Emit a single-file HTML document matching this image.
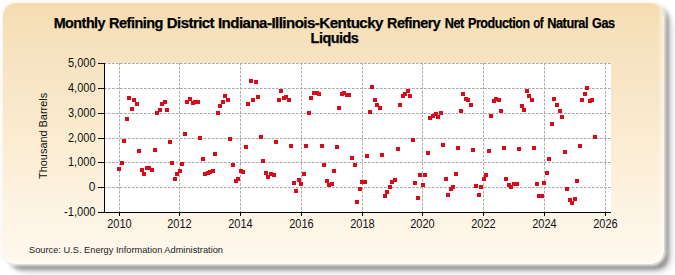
<!DOCTYPE html>
<html><head><meta charset="utf-8"><style>
html,body{margin:0;padding:0;width:675px;height:275px;overflow:hidden;background:#fff;}
#shadow{position:absolute;left:9px;top:7px;width:660px;height:263px;border-radius:13px;background:rgba(0,0,0,0.38);filter:blur(2.2px);}
#shadow2{position:absolute;left:12px;top:12px;width:662px;height:262px;border-radius:18px;background:rgba(0,0,20,0.08);filter:blur(4px);}
#panel{position:absolute;left:3px;top:3px;width:661px;height:261px;border-radius:13px;
background:linear-gradient(to bottom,rgb(244,220,176) 0%,rgb(246,225,188) 12%,rgb(247,227,194) 22%,rgb(248,232,202) 39%,rgb(252,238,213) 58%,rgb(253,243,226) 77%,rgb(254,247,236) 96%,rgb(254,248,238) 100%);
box-shadow:0 0 2.5px 1.5px rgba(250,245,235,0.8), inset -4px -4px 3px rgba(255,255,255,0.45);filter:blur(0.6px);}
svg{position:absolute;left:0;top:0;}
.ax{font-family:"Liberation Sans",sans-serif;font-size:12px;fill:#111;}
.title{font-family:"Liberation Sans",sans-serif;font-size:14px;font-weight:bold;fill:#000;stroke:#000;stroke-width:0.25px;letter-spacing:-0.5px;}
.src{font-family:"Liberation Sans",sans-serif;font-size:9.6px;fill:#222;}
</style></head><body>
<div id="shadow2"></div><div id="shadow"></div><div id="panel"></div>
<svg width="675" height="275" viewBox="0 0 675 275" shape-rendering="crispEdges">
<text x="53.7" y="28" class="title" textLength="51.37" lengthAdjust="spacingAndGlyphs">Monthly</text><text x="109.1" y="28" class="title" textLength="53.84" lengthAdjust="spacingAndGlyphs">Refining</text><text x="166.8" y="28" class="title" textLength="47.25" lengthAdjust="spacingAndGlyphs">District</text><text x="217.9" y="28" class="title" textLength="165.02" lengthAdjust="spacingAndGlyphs">Indiana-Illinois-Kentucky</text><text x="387.1" y="28" class="title" textLength="53.03" lengthAdjust="spacingAndGlyphs">Refinery</text><text x="444.8" y="28" class="title" textLength="19.08" lengthAdjust="spacingAndGlyphs">Net</text><text x="468" y="28" class="title" textLength="61.81" lengthAdjust="spacingAndGlyphs">Production</text><text x="533.2" y="28" class="title" textLength="9.97" lengthAdjust="spacingAndGlyphs">of</text><text x="547.2" y="28" class="title" textLength="40.79" lengthAdjust="spacingAndGlyphs">Natural</text><text x="592.1" y="28" class="title" textLength="22.59" lengthAdjust="spacingAndGlyphs">Gas</text>
<text x="310.6" y="43" class="title" textLength="47.73" lengthAdjust="spacingAndGlyphs">Liquids</text>
<text transform="translate(46.6,135.9) rotate(-90)" text-anchor="middle" class="ax" style="font-size:10px" textLength="86" lengthAdjust="spacingAndGlyphs">Thousand Barrels</text>
<rect x="104" y="63" width="507" height="149" fill="#fff"/><line x1="104" y1="63.5" x2="611" y2="63.5" stroke="#aaaaaa" stroke-width="1" stroke-dasharray="2.6,1.4" shape-rendering="auto"/><line x1="104" y1="88.5" x2="611" y2="88.5" stroke="#aaaaaa" stroke-width="1" stroke-dasharray="2.6,1.4" shape-rendering="auto"/><line x1="104" y1="113.5" x2="611" y2="113.5" stroke="#aaaaaa" stroke-width="1" stroke-dasharray="2.6,1.4" shape-rendering="auto"/><line x1="104" y1="138.5" x2="611" y2="138.5" stroke="#aaaaaa" stroke-width="1" stroke-dasharray="2.6,1.4" shape-rendering="auto"/><line x1="104" y1="162.5" x2="611" y2="162.5" stroke="#aaaaaa" stroke-width="1" stroke-dasharray="2.6,1.4" shape-rendering="auto"/><line x1="104" y1="187.5" x2="611" y2="187.5" stroke="#aaaaaa" stroke-width="1" stroke-dasharray="2.6,1.4" shape-rendering="auto"/><line x1="119.5" y1="63" x2="119.5" y2="212" stroke="#aaaaaa" stroke-width="1" stroke-dasharray="2.6,1.4" shape-rendering="auto"/><line x1="179.5" y1="63" x2="179.5" y2="212" stroke="#aaaaaa" stroke-width="1" stroke-dasharray="2.6,1.4" shape-rendering="auto"/><line x1="240.5" y1="63" x2="240.5" y2="212" stroke="#aaaaaa" stroke-width="1" stroke-dasharray="2.6,1.4" shape-rendering="auto"/><line x1="301.5" y1="63" x2="301.5" y2="212" stroke="#aaaaaa" stroke-width="1" stroke-dasharray="2.6,1.4" shape-rendering="auto"/><line x1="362.5" y1="63" x2="362.5" y2="212" stroke="#aaaaaa" stroke-width="1" stroke-dasharray="2.6,1.4" shape-rendering="auto"/><line x1="422.5" y1="63" x2="422.5" y2="212" stroke="#aaaaaa" stroke-width="1" stroke-dasharray="2.6,1.4" shape-rendering="auto"/><line x1="483.5" y1="63" x2="483.5" y2="212" stroke="#aaaaaa" stroke-width="1" stroke-dasharray="2.6,1.4" shape-rendering="auto"/><line x1="544.5" y1="63" x2="544.5" y2="212" stroke="#aaaaaa" stroke-width="1" stroke-dasharray="2.6,1.4" shape-rendering="auto"/><line x1="605.5" y1="63" x2="605.5" y2="212" stroke="#aaaaaa" stroke-width="1" stroke-dasharray="2.6,1.4" shape-rendering="auto"/><rect x="117" y="167" width="4" height="4" fill="#d90a1a"/><rect x="120" y="161" width="4" height="4" fill="#d90a1a"/><rect x="122" y="139" width="4" height="4" fill="#d90a1a"/><rect x="125" y="117" width="4" height="4" fill="#d90a1a"/><rect x="127" y="96" width="4" height="4" fill="#d90a1a"/><rect x="130" y="107" width="4" height="4" fill="#d90a1a"/><rect x="132" y="98" width="4" height="4" fill="#d90a1a"/><rect x="135" y="102" width="4" height="4" fill="#d90a1a"/><rect x="137" y="149" width="4" height="4" fill="#d90a1a"/><rect x="140" y="168" width="4" height="4" fill="#d90a1a"/><rect x="142" y="172" width="4" height="4" fill="#d90a1a"/><rect x="145" y="166" width="4" height="4" fill="#d90a1a"/><rect x="147" y="166" width="4" height="4" fill="#d90a1a"/><rect x="150" y="168" width="4" height="4" fill="#d90a1a"/><rect x="153" y="148" width="4" height="4" fill="#d90a1a"/><rect x="155" y="111" width="4" height="4" fill="#d90a1a"/><rect x="158" y="108" width="4" height="4" fill="#d90a1a"/><rect x="160" y="102" width="4" height="4" fill="#d90a1a"/><rect x="163" y="100" width="4" height="4" fill="#d90a1a"/><rect x="165" y="108" width="4" height="4" fill="#d90a1a"/><rect x="168" y="140" width="4" height="4" fill="#d90a1a"/><rect x="170" y="161" width="4" height="4" fill="#d90a1a"/><rect x="173" y="177" width="4" height="4" fill="#d90a1a"/><rect x="175" y="172" width="4" height="4" fill="#d90a1a"/><rect x="178" y="169" width="4" height="4" fill="#d90a1a"/><rect x="180" y="162" width="4" height="4" fill="#d90a1a"/><rect x="183" y="132" width="4" height="4" fill="#d90a1a"/><rect x="185" y="100" width="4" height="4" fill="#d90a1a"/><rect x="188" y="97" width="4" height="4" fill="#d90a1a"/><rect x="191" y="101" width="4" height="4" fill="#d90a1a"/><rect x="193" y="100" width="4" height="4" fill="#d90a1a"/><rect x="196" y="100" width="4" height="4" fill="#d90a1a"/><rect x="198" y="136" width="4" height="4" fill="#d90a1a"/><rect x="201" y="157" width="4" height="4" fill="#d90a1a"/><rect x="203" y="172" width="4" height="4" fill="#d90a1a"/><rect x="206" y="171" width="4" height="4" fill="#d90a1a"/><rect x="208" y="170" width="4" height="4" fill="#d90a1a"/><rect x="211" y="169" width="4" height="4" fill="#d90a1a"/><rect x="213" y="152" width="4" height="4" fill="#d90a1a"/><rect x="216" y="111" width="4" height="4" fill="#d90a1a"/><rect x="218" y="104" width="4" height="4" fill="#d90a1a"/><rect x="221" y="100" width="4" height="4" fill="#d90a1a"/><rect x="223" y="94" width="4" height="4" fill="#d90a1a"/><rect x="226" y="98" width="4" height="4" fill="#d90a1a"/><rect x="228" y="137" width="4" height="4" fill="#d90a1a"/><rect x="231" y="163" width="4" height="4" fill="#d90a1a"/><rect x="234" y="179" width="4" height="4" fill="#d90a1a"/><rect x="236" y="177" width="4" height="4" fill="#d90a1a"/><rect x="239" y="169" width="4" height="4" fill="#d90a1a"/><rect x="241" y="170" width="4" height="4" fill="#d90a1a"/><rect x="244" y="145" width="4" height="4" fill="#d90a1a"/><rect x="246" y="102" width="4" height="4" fill="#d90a1a"/><rect x="249" y="79" width="4" height="4" fill="#d90a1a"/><rect x="251" y="98" width="4" height="4" fill="#d90a1a"/><rect x="254" y="80" width="4" height="4" fill="#d90a1a"/><rect x="256" y="95" width="4" height="4" fill="#d90a1a"/><rect x="259" y="135" width="4" height="4" fill="#d90a1a"/><rect x="261" y="159" width="4" height="4" fill="#d90a1a"/><rect x="264" y="171" width="4" height="4" fill="#d90a1a"/><rect x="266" y="175" width="4" height="4" fill="#d90a1a"/><rect x="269" y="172" width="4" height="4" fill="#d90a1a"/><rect x="272" y="173" width="4" height="4" fill="#d90a1a"/><rect x="274" y="140" width="4" height="4" fill="#d90a1a"/><rect x="277" y="98" width="4" height="4" fill="#d90a1a"/><rect x="279" y="89" width="4" height="4" fill="#d90a1a"/><rect x="282" y="96" width="4" height="4" fill="#d90a1a"/><rect x="284" y="95" width="4" height="4" fill="#d90a1a"/><rect x="287" y="98" width="4" height="4" fill="#d90a1a"/><rect x="289" y="144" width="4" height="4" fill="#d90a1a"/><rect x="292" y="181" width="4" height="4" fill="#d90a1a"/><rect x="294" y="189" width="4" height="4" fill="#d90a1a"/><rect x="297" y="178" width="4" height="4" fill="#d90a1a"/><rect x="299" y="182" width="4" height="4" fill="#d90a1a"/><rect x="302" y="172" width="4" height="4" fill="#d90a1a"/><rect x="304" y="144" width="4" height="4" fill="#d90a1a"/><rect x="307" y="111" width="4" height="4" fill="#d90a1a"/><rect x="309" y="96" width="4" height="4" fill="#d90a1a"/><rect x="312" y="91" width="4" height="4" fill="#d90a1a"/><rect x="315" y="91" width="4" height="4" fill="#d90a1a"/><rect x="317" y="92" width="4" height="4" fill="#d90a1a"/><rect x="320" y="144" width="4" height="4" fill="#d90a1a"/><rect x="322" y="163" width="4" height="4" fill="#d90a1a"/><rect x="325" y="179" width="4" height="4" fill="#d90a1a"/><rect x="327" y="183" width="4" height="4" fill="#d90a1a"/><rect x="330" y="182" width="4" height="4" fill="#d90a1a"/><rect x="332" y="169" width="4" height="4" fill="#d90a1a"/><rect x="335" y="145" width="4" height="4" fill="#d90a1a"/><rect x="337" y="106" width="4" height="4" fill="#d90a1a"/><rect x="340" y="92" width="4" height="4" fill="#d90a1a"/><rect x="342" y="91" width="4" height="4" fill="#d90a1a"/><rect x="345" y="93" width="4" height="4" fill="#d90a1a"/><rect x="347" y="93" width="4" height="4" fill="#d90a1a"/><rect x="350" y="156" width="4" height="4" fill="#d90a1a"/><rect x="353" y="163" width="4" height="4" fill="#d90a1a"/><rect x="355" y="200" width="4" height="4" fill="#d90a1a"/><rect x="358" y="187" width="4" height="4" fill="#d90a1a"/><rect x="360" y="180" width="4" height="4" fill="#d90a1a"/><rect x="363" y="180" width="4" height="4" fill="#d90a1a"/><rect x="365" y="154" width="4" height="4" fill="#d90a1a"/><rect x="368" y="110" width="4" height="4" fill="#d90a1a"/><rect x="370" y="85" width="4" height="4" fill="#d90a1a"/><rect x="373" y="98" width="4" height="4" fill="#d90a1a"/><rect x="375" y="103" width="4" height="4" fill="#d90a1a"/><rect x="378" y="106" width="4" height="4" fill="#d90a1a"/><rect x="380" y="153" width="4" height="4" fill="#d90a1a"/><rect x="383" y="194" width="4" height="4" fill="#d90a1a"/><rect x="385" y="190" width="4" height="4" fill="#d90a1a"/><rect x="388" y="185" width="4" height="4" fill="#d90a1a"/><rect x="390" y="180" width="4" height="4" fill="#d90a1a"/><rect x="393" y="178" width="4" height="4" fill="#d90a1a"/><rect x="396" y="147" width="4" height="4" fill="#d90a1a"/><rect x="398" y="103" width="4" height="4" fill="#d90a1a"/><rect x="401" y="94" width="4" height="4" fill="#d90a1a"/><rect x="403" y="92" width="4" height="4" fill="#d90a1a"/><rect x="406" y="89" width="4" height="4" fill="#d90a1a"/><rect x="408" y="94" width="4" height="4" fill="#d90a1a"/><rect x="411" y="138" width="4" height="4" fill="#d90a1a"/><rect x="413" y="181" width="4" height="4" fill="#d90a1a"/><rect x="416" y="196" width="4" height="4" fill="#d90a1a"/><rect x="418" y="173" width="4" height="4" fill="#d90a1a"/><rect x="421" y="183" width="4" height="4" fill="#d90a1a"/><rect x="423" y="173" width="4" height="4" fill="#d90a1a"/><rect x="426" y="151" width="4" height="4" fill="#d90a1a"/><rect x="428" y="116" width="4" height="4" fill="#d90a1a"/><rect x="431" y="114" width="4" height="4" fill="#d90a1a"/><rect x="434" y="112" width="4" height="4" fill="#d90a1a"/><rect x="436" y="115" width="4" height="4" fill="#d90a1a"/><rect x="439" y="111" width="4" height="4" fill="#d90a1a"/><rect x="441" y="143" width="4" height="4" fill="#d90a1a"/><rect x="444" y="177" width="4" height="4" fill="#d90a1a"/><rect x="446" y="193" width="4" height="4" fill="#d90a1a"/><rect x="449" y="187" width="4" height="4" fill="#d90a1a"/><rect x="451" y="185" width="4" height="4" fill="#d90a1a"/><rect x="454" y="172" width="4" height="4" fill="#d90a1a"/><rect x="456" y="146" width="4" height="4" fill="#d90a1a"/><rect x="459" y="109" width="4" height="4" fill="#d90a1a"/><rect x="461" y="92" width="4" height="4" fill="#d90a1a"/><rect x="464" y="97" width="4" height="4" fill="#d90a1a"/><rect x="466" y="98" width="4" height="4" fill="#d90a1a"/><rect x="469" y="103" width="4" height="4" fill="#d90a1a"/><rect x="471" y="148" width="4" height="4" fill="#d90a1a"/><rect x="474" y="184" width="4" height="4" fill="#d90a1a"/><rect x="477" y="193" width="4" height="4" fill="#d90a1a"/><rect x="479" y="185" width="4" height="4" fill="#d90a1a"/><rect x="482" y="177" width="4" height="4" fill="#d90a1a"/><rect x="484" y="173" width="4" height="4" fill="#d90a1a"/><rect x="487" y="149" width="4" height="4" fill="#d90a1a"/><rect x="489" y="114" width="4" height="4" fill="#d90a1a"/><rect x="492" y="99" width="4" height="4" fill="#d90a1a"/><rect x="494" y="97" width="4" height="4" fill="#d90a1a"/><rect x="497" y="98" width="4" height="4" fill="#d90a1a"/><rect x="499" y="109" width="4" height="4" fill="#d90a1a"/><rect x="502" y="146" width="4" height="4" fill="#d90a1a"/><rect x="504" y="177" width="4" height="4" fill="#d90a1a"/><rect x="507" y="183" width="4" height="4" fill="#d90a1a"/><rect x="509" y="185" width="4" height="4" fill="#d90a1a"/><rect x="512" y="182" width="4" height="4" fill="#d90a1a"/><rect x="515" y="182" width="4" height="4" fill="#d90a1a"/><rect x="517" y="147" width="4" height="4" fill="#d90a1a"/><rect x="520" y="104" width="4" height="4" fill="#d90a1a"/><rect x="522" y="108" width="4" height="4" fill="#d90a1a"/><rect x="525" y="89" width="4" height="4" fill="#d90a1a"/><rect x="527" y="94" width="4" height="4" fill="#d90a1a"/><rect x="530" y="98" width="4" height="4" fill="#d90a1a"/><rect x="532" y="146" width="4" height="4" fill="#d90a1a"/><rect x="535" y="182" width="4" height="4" fill="#d90a1a"/><rect x="537" y="194" width="4" height="4" fill="#d90a1a"/><rect x="540" y="194" width="4" height="4" fill="#d90a1a"/><rect x="542" y="181" width="4" height="4" fill="#d90a1a"/><rect x="545" y="171" width="4" height="4" fill="#d90a1a"/><rect x="547" y="157" width="4" height="4" fill="#d90a1a"/><rect x="550" y="122" width="4" height="4" fill="#d90a1a"/><rect x="552" y="97" width="4" height="4" fill="#d90a1a"/><rect x="555" y="103" width="4" height="4" fill="#d90a1a"/><rect x="558" y="109" width="4" height="4" fill="#d90a1a"/><rect x="560" y="115" width="4" height="4" fill="#d90a1a"/><rect x="563" y="150" width="4" height="4" fill="#d90a1a"/><rect x="565" y="187" width="4" height="4" fill="#d90a1a"/><rect x="568" y="198" width="4" height="4" fill="#d90a1a"/><rect x="570" y="201" width="4" height="4" fill="#d90a1a"/><rect x="573" y="197" width="4" height="4" fill="#d90a1a"/><rect x="575" y="179" width="4" height="4" fill="#d90a1a"/><rect x="578" y="144" width="4" height="4" fill="#d90a1a"/><rect x="580" y="98" width="4" height="4" fill="#d90a1a"/><rect x="583" y="92" width="4" height="4" fill="#d90a1a"/><rect x="585" y="86" width="4" height="4" fill="#d90a1a"/><rect x="588" y="99" width="4" height="4" fill="#d90a1a"/><rect x="590" y="98" width="4" height="4" fill="#d90a1a"/><rect x="593" y="135" width="4" height="4" fill="#d90a1a"/><rect x="104" y="63" width="1" height="150" fill="#000"/><rect x="104" y="212" width="507" height="1" fill="#000"/><rect x="98" y="63" width="6" height="1" fill="#000"/><text x="95.5" y="66.5" text-anchor="end" class="ax" textLength="27.5" lengthAdjust="spacingAndGlyphs">5,000</text><rect x="98" y="88" width="6" height="1" fill="#000"/><text x="95.5" y="91.5" text-anchor="end" class="ax" textLength="27.5" lengthAdjust="spacingAndGlyphs">4,000</text><rect x="98" y="113" width="6" height="1" fill="#000"/><text x="95.5" y="116.5" text-anchor="end" class="ax" textLength="27.5" lengthAdjust="spacingAndGlyphs">3,000</text><rect x="98" y="138" width="6" height="1" fill="#000"/><text x="95.5" y="141.5" text-anchor="end" class="ax" textLength="27.5" lengthAdjust="spacingAndGlyphs">2,000</text><rect x="98" y="162" width="6" height="1" fill="#000"/><text x="95.5" y="165.5" text-anchor="end" class="ax" textLength="27.5" lengthAdjust="spacingAndGlyphs">1,000</text><rect x="98" y="187" width="6" height="1" fill="#000"/><text x="95.5" y="190.5" text-anchor="end" class="ax" textLength="6.7" lengthAdjust="spacingAndGlyphs">0</text><rect x="98" y="212" width="6" height="1" fill="#000"/><text x="95.5" y="215.5" text-anchor="end" class="ax" textLength="31.5" lengthAdjust="spacingAndGlyphs">-1,000</text><rect x="119" y="212" width="1" height="4" fill="#000"/><text x="119.5" y="228" text-anchor="middle" class="ax" textLength="24.5" lengthAdjust="spacingAndGlyphs">2010</text><rect x="179" y="212" width="1" height="4" fill="#000"/><text x="179.5" y="228" text-anchor="middle" class="ax" textLength="24.5" lengthAdjust="spacingAndGlyphs">2012</text><rect x="240" y="212" width="1" height="4" fill="#000"/><text x="240.5" y="228" text-anchor="middle" class="ax" textLength="24.5" lengthAdjust="spacingAndGlyphs">2014</text><rect x="301" y="212" width="1" height="4" fill="#000"/><text x="301.5" y="228" text-anchor="middle" class="ax" textLength="24.5" lengthAdjust="spacingAndGlyphs">2016</text><rect x="362" y="212" width="1" height="4" fill="#000"/><text x="362.5" y="228" text-anchor="middle" class="ax" textLength="24.5" lengthAdjust="spacingAndGlyphs">2018</text><rect x="422" y="212" width="1" height="4" fill="#000"/><text x="422.5" y="228" text-anchor="middle" class="ax" textLength="24.5" lengthAdjust="spacingAndGlyphs">2020</text><rect x="483" y="212" width="1" height="4" fill="#000"/><text x="483.5" y="228" text-anchor="middle" class="ax" textLength="24.5" lengthAdjust="spacingAndGlyphs">2022</text><rect x="544" y="212" width="1" height="4" fill="#000"/><text x="544.5" y="228" text-anchor="middle" class="ax" textLength="24.5" lengthAdjust="spacingAndGlyphs">2024</text><rect x="605" y="212" width="1" height="4" fill="#000"/><text x="605.5" y="228" text-anchor="middle" class="ax" textLength="24.5" lengthAdjust="spacingAndGlyphs">2026</text>
<text x="29" y="253.3" class="src" textLength="194" lengthAdjust="spacingAndGlyphs">Source: U.S. Energy Information Administration</text>
</svg>
</body></html>
